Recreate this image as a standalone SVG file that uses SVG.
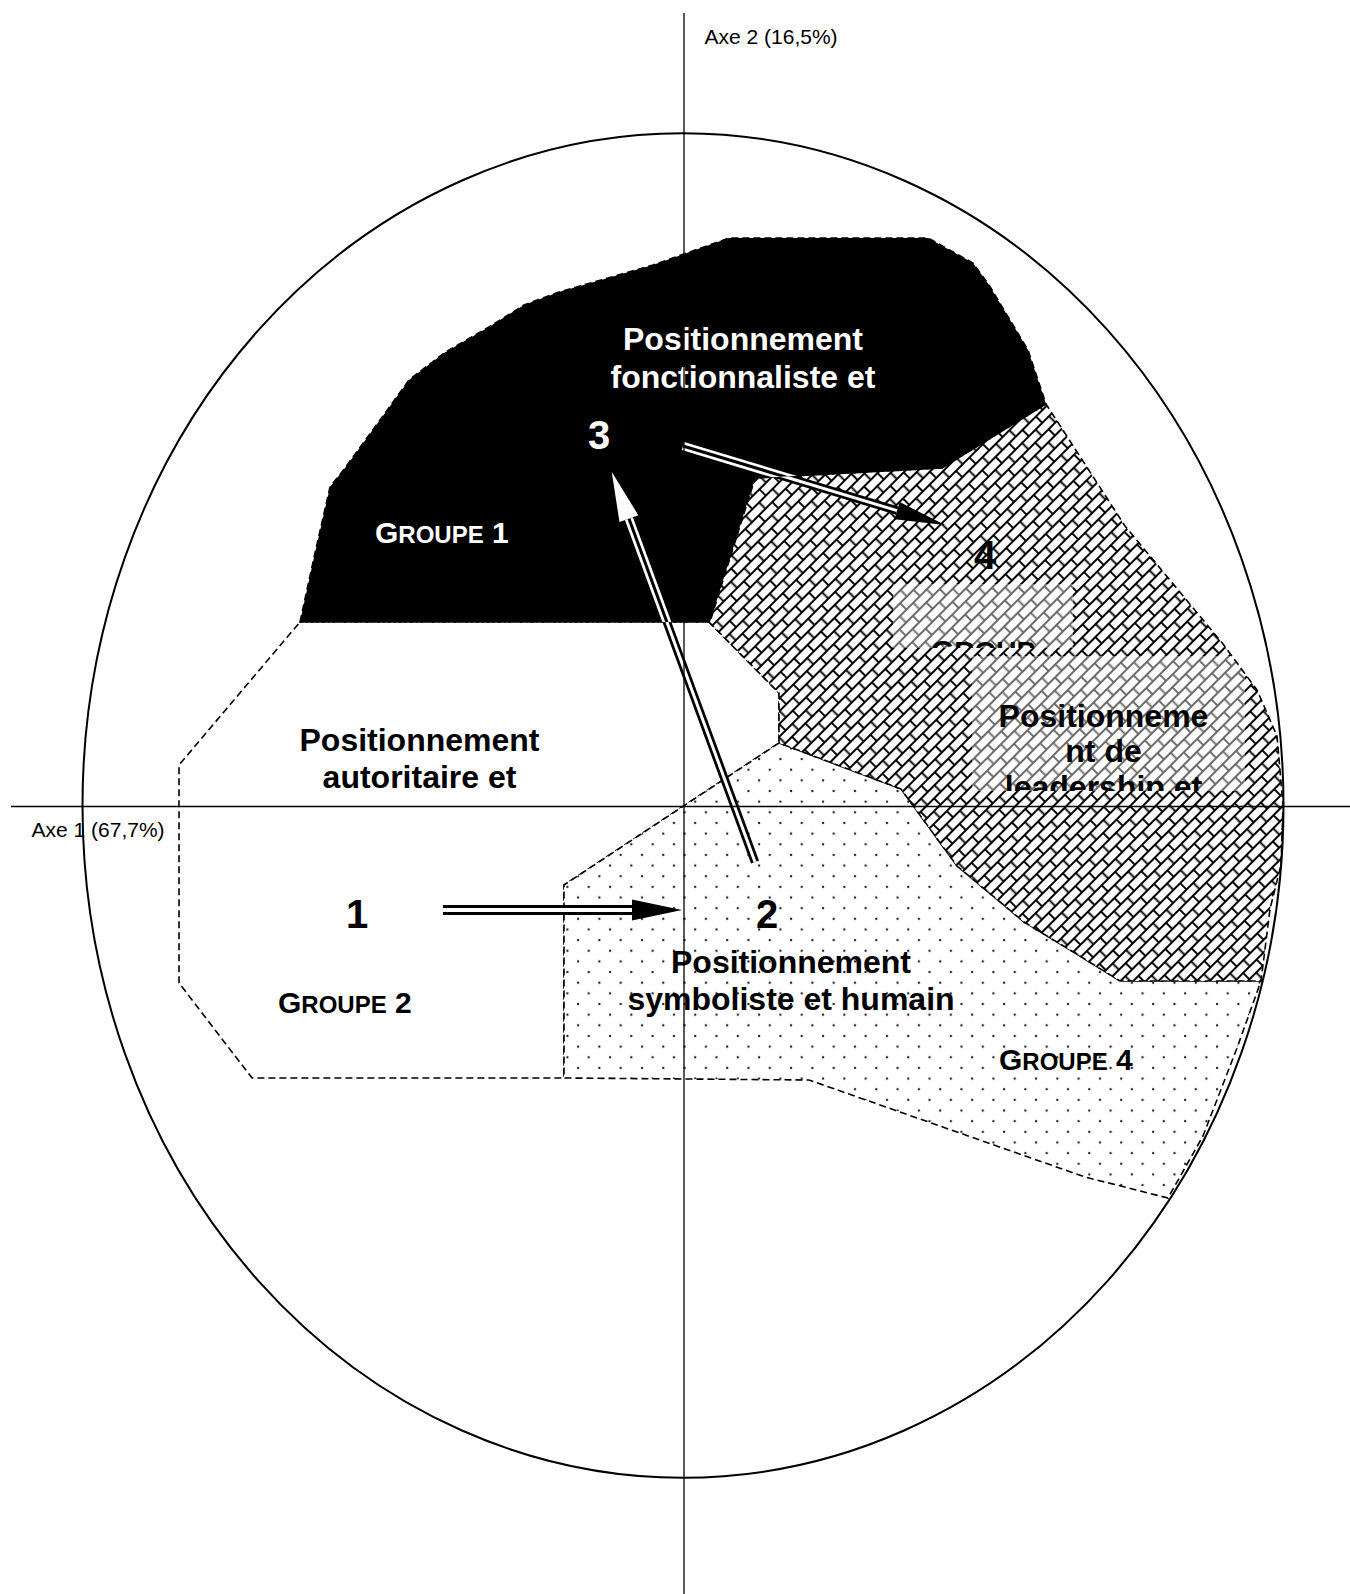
<svg xmlns="http://www.w3.org/2000/svg" xmlns:xlink="http://www.w3.org/1999/xlink" width="1350" height="1594" viewBox="0 0 1350 1594">
  <style>
    .zone { stroke: #000; stroke-width: 1.6; stroke-dasharray: 7 4; }
    .lbl { font-family: "Liberation Sans", Arial, sans-serif; font-weight: bold; font-size: 32px; text-anchor: middle; }
    .num { font-family: "Liberation Sans", Arial, sans-serif; font-weight: bold; font-size: 40px; text-anchor: middle; }
    .grp { font-family: "Liberation Sans", Arial, sans-serif; font-weight: bold; font-size: 30px; }
    .sc { font-size: 24px; }
    .axlbl { font-family: "Liberation Sans", Arial, sans-serif; font-size: 21px; fill: #000; }
    .white { fill: #fff; }
    .black { fill: #000; }
    .axis { stroke: #000; stroke-width: 1.3; fill: none; }
    .outer { stroke: currentColor; fill: none; }
    .inner { fill: none; }
    .head { fill: currentColor; stroke: none; }
  </style>
  <defs>
    <!-- diagonal brick hatch -->
    <pattern id="brick" width="19" height="18" patternUnits="userSpaceOnUse" patternTransform="rotate(-45)">
      <rect width="19" height="18" fill="#fff"/>
      <path d="M0 1H19M0 10H19M1 1V10M10.5 10V18M10.5 0V1" stroke="#000" stroke-width="1.9" fill="none"/>
    </pattern>
    <!-- staggered dot screen -->
    <pattern id="dots" width="21.3" height="21.3" patternUnits="userSpaceOnUse">
      <rect width="21.3" height="21.3" fill="#fff"/>
      <circle cx="3" cy="3" r="1.2" fill="#222"/>
      <circle cx="13.65" cy="13.65" r="1.2" fill="#222"/>
    </pattern>
    <polygon id="shapeBlack" points="300,622 315,553 330,487 345,468 380,420 409,380 444,353 489,327 524,305 559,292 608,278 653,265 729,238 928,238 973,263 989,285 1028,350 1046,404 942,468 755,478 710,622"/>
    <polygon id="shapeHatch" points="755,478 942,468 1046,404 1125,526 1223,644 1257,690 1277,736 1283,805 1281,865 1270,909 1261,981 1120,981 1075,953 1024,922 957,866 901,789 779,743 779,693 709,622"/>
    <polygon id="shapeDots" points="779,743 901,789 957,866 1024,922 1075,953 1120,981 1261,981 1237,1048 1203,1136 1168,1198 1085,1177 809,1080 564,1078 564,885"/>
    <polygon id="shapeWhite" points="300,622 709,622 779,693 779,743 564,885 564,1078 252,1078 179,983 179,765"/>
    <clipPath id="clipBlack"><use xlink:href="#shapeBlack"/></clipPath>
    <clipPath id="clipHatch"><use xlink:href="#shapeHatch"/></clipPath>
    <clipPath id="clipBox3"><rect x="893" y="584" width="180" height="64"/></clipPath>
    <clipPath id="clipBoxLead"><rect x="972" y="656" width="273" height="135"/></clipPath>
    <!-- double-line arrows; outline uses color, core uses stroke -->
    <g id="arrowShapes">
      <line class="outer" x1="443" y1="910" x2="632" y2="910" stroke-width="10"/>
      <line class="inner" x1="443" y1="910" x2="632" y2="910" stroke-width="4"/>
      <polygon class="head" points="682,910 632,899.5 632,920.5"/>
      <line class="outer" x1="755" y1="862" x2="628.9" y2="518.6" stroke-width="8.5"/>
      <line class="inner" x1="755" y1="862" x2="628.9" y2="518.6" stroke-width="3"/>
      <polygon class="head" points="611.7,471.7 638.3,515.2 619.5,522"/>
      <line class="outer" x1="683" y1="446" x2="897.1" y2="510.6" stroke-width="8.5"/>
      <line class="inner" x1="683" y1="446" x2="897.1" y2="510.6" stroke-width="3"/>
      <polygon class="head" points="945,525 894.5,519.2 899.7,502"/>
    </g>
  </defs>

  <rect width="1350" height="1594" fill="#fff"/>

  <!-- Groupe 2: authoritarian positioning -->
  <g id="groupe2">
    <use xlink:href="#shapeWhite" class="zone" fill="#fff"/>
    <text class="lbl black" x="419.5" y="751">Positionnement</text>
    <text class="lbl black" x="419.5" y="788">autoritaire et</text>
    <text class="num black" x="357" y="928">1</text>
    <text class="grp black" x="278" y="1013">G<tspan class="sc">ROUPE</tspan> 2</text>
  </g>

  <!-- Groupe 4: symbolist and human positioning -->
  <g id="groupe4">
    <use xlink:href="#shapeDots" class="zone" fill="url(#dots)"/>
    <text class="num black" x="767" y="928">2</text>
    <text class="lbl black" x="791" y="973">Positionnement</text>
    <text class="lbl black" x="791" y="1010">symboliste et humain</text>
    <text class="grp black" x="999" y="1070">G<tspan class="sc">ROUPE</tspan> 4</text>
  </g>

  <!-- Groupe 3: leadership positioning (text boxes clipped) -->
  <g id="groupe3">
    <use xlink:href="#shapeHatch" fill="url(#brick)"/>
    <g clip-path="url(#clipHatch)" fill="#fff" opacity="0.42">
      <rect x="893" y="584" width="180" height="64"/>
      <rect x="972" y="656" width="273" height="135"/>
    </g>
    <use xlink:href="#shapeHatch" class="zone" fill="none"/>
    <text class="num black" x="985" y="569">4</text>
    <g clip-path="url(#clipBox3)">
      <text class="grp black" x="931" y="661">G<tspan style="font-size:28px">ROUP</tspan></text>
    </g>
    <g clip-path="url(#clipBoxLead)">
      <text class="lbl black" x="1103.5" y="727">Positionneme</text>
      <text class="lbl black" x="1103.5" y="762">nt de</text>
      <text class="lbl black" x="1103.5" y="798">leadership et</text>
    </g>
  </g>

  <!-- Groupe 1: functionalist positioning -->
  <g id="groupe1">
    <use xlink:href="#shapeBlack" fill="#000" stroke="#000" stroke-width="1.6" stroke-dasharray="7 4"/>
    <text class="lbl white" x="743" y="350">Positionnement</text>
    <text class="lbl white" x="743" y="388">fonctionnaliste et</text>
    <text class="num white" x="599" y="449">3</text>
    <text class="grp white" x="375" y="543">G<tspan class="sc">ROUPE</tspan> 1</text>
  </g>

  <!-- trajectory arrows 1 -> 2 -> 3 -> 4 -->
  <g id="connectors">
    <use xlink:href="#arrowShapes" color="#000" stroke="#fff"/>
    <use xlink:href="#arrowShapes" color="#fff" stroke="#000" clip-path="url(#clipBlack)"/>
  </g>

  <!-- factorial axes and correlation ellipse -->
  <g id="axes">
    <line class="axis" x1="11" y1="806.5" x2="1350" y2="806.5"/>
    <line class="axis" x1="684" y1="13" x2="684" y2="1594"/>
    <text class="axlbl" x="31.5" y="837">Axe 1 (67,7%)</text>
    <text class="axlbl" x="704.5" y="44">Axe 2 (16,5%)</text>
    <ellipse cx="683" cy="805.5" rx="600.5" ry="672.2" fill="none" stroke="#000" stroke-width="2"/>
  </g>
</svg>
